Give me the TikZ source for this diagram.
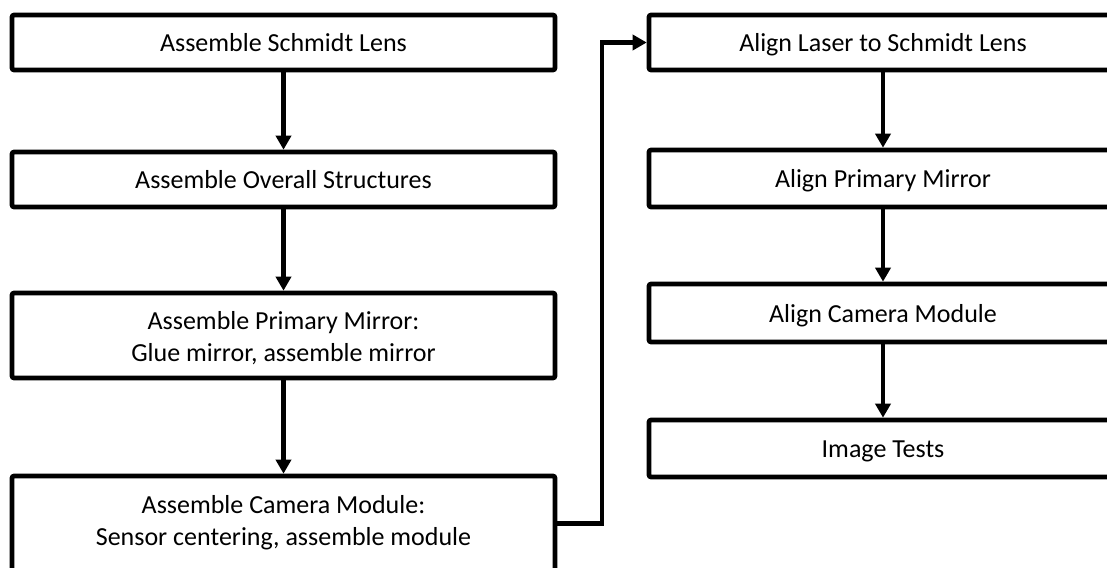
\documentclass[tikz,border=0pt]{standalone}
\usepackage{fontspec}
\setmainfont{Carlito}
\usetikzlibrary{arrows.meta}
\begin{document}
\begin{tikzpicture}[x=1pt,y=-1pt,
  stepbox/.style={draw=black, line width=4.6pt, rounded corners=2pt, fill=white,
    align=center, inner sep=0pt, font=\fontsize{26}{32.5}\selectfont},
  oneline/.style={stepbox, text height=18pt, text depth=0pt},
  arr/.style={line width=4.6pt, -{Triangle[width=15pt,length=14pt]}}]
\useasboundingbox (0,0) rectangle (1107,567);
\clip (0,0) rectangle (1107,567);
% left column
\node[oneline, minimum width=543pt, minimum height=55pt] (L1) at (283.5,42.5) {Assemble Schmidt Lens};
\node[oneline, minimum width=543pt, minimum height=55pt] (L2) at (283.5,179.5) {Assemble Overall Structures};
\node[stepbox, minimum width=543pt, minimum height=85pt] (L3) at (283.5,335.5)
  {\rule{0pt}{24pt}Assemble Primary Mirror:\\Glue mirror, assemble mirror\rule[-4pt]{0pt}{4pt}};
\node[stepbox, minimum width=543pt, minimum height=95pt] (L4) at (283.5,523.5)
  {\rule{0pt}{18pt}Assemble Camera Module:\\Sensor centering, assemble module\rule[-6pt]{0pt}{6pt}};
% right column
\node[oneline, minimum width=468pt, minimum height=55pt] (R1) at (883,42.5) {Align Laser to Schmidt Lens};
\node[oneline, minimum width=468pt, minimum height=57pt] (R2) at (883,178.5) {Align Primary Mirror};
\node[oneline, minimum width=468pt, minimum height=58pt] (R3) at (883,313) {Align Camera Module};
\node[oneline, minimum width=468pt, minimum height=57pt] (R4) at (883,448.5) {Image Tests};
% connectors
\draw[arr] (L1) -- (L2);
\draw[arr] (L2) -- (L3);
\draw[arr] (L3) -- (L4);
\draw[arr] (R1) -- (R2);
\draw[arr] (R2) -- (R3);
\draw[arr] (R3) -- (R4);
\coordinate (bend) at (602,0);
\draw[arr] (L4.east) -- (bend |- L4.east) -- (bend |- R1.west) -- (R1.west);
\end{tikzpicture}
\end{document}
